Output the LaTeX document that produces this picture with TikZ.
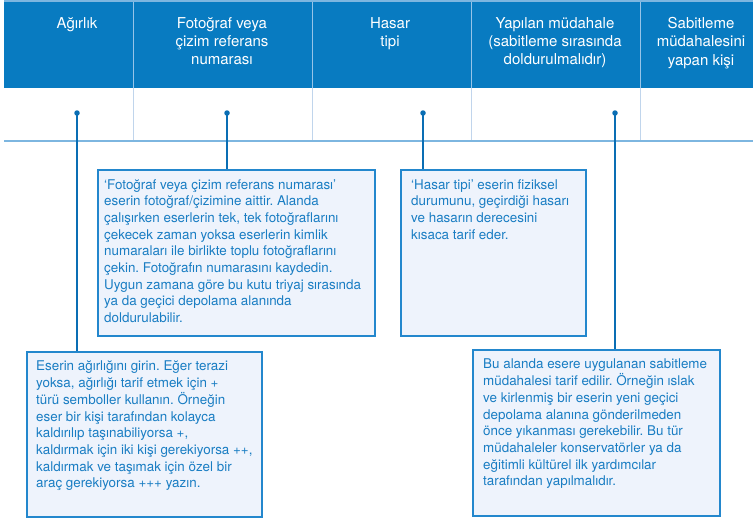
\documentclass[tikz,border=0pt]{standalone}
\usepackage{fontspec}
\setmainfont{TeX Gyre Heros}
\frenchspacing
\definecolor{headblue}{RGB}{8,123,193}
\definecolor{rowline}{RGB}{125,182,224}
\definecolor{headdiv}{RGB}{150,196,232}
\definecolor{celldiv}{RGB}{192,213,236}
\definecolor{leader}{RGB}{10,110,180}
\definecolor{boxedge}{RGB}{35,135,205}
\definecolor{boxfill}{RGB}{238,243,252}
\definecolor{boxink}{RGB}{25,125,195}
\begin{document}
\begin{tikzpicture}[x=1pt,y=-1pt,
  headtext/.style={text=white, align=center, inner sep=0pt, anchor=north,
    font=\fontsize{15}{18.3}\selectfont},
  infobox/.style={draw=boxedge, line width=1.5pt, fill=boxfill, anchor=north west,
    inner sep=0pt},
  boxtext/.style={text=boxink, align=left, inner sep=0pt, anchor=north west,
    font=\fontsize{13.4}{16.7}\selectfont},
  dot/.style={circle, fill=leader, inner sep=0pt, minimum size=5.5pt},
  leaderline/.style={draw=leader, line width=1.3pt}
]
\useasboundingbox (0,0) rectangle (753,520);
\fill[white] (0,0) rectangle (753,520);

% header band and row lines
\fill[headblue] (4,2) rectangle (753,88);
\draw[rowline, line width=1.2pt] (4,1) -- (753,1);
\foreach \x in {133,312,471,640}{
  \draw[headdiv, line width=0.8pt] (\x,2) -- (\x,88);
  \draw[celldiv, line width=0.8pt] (\x,88) -- (\x,140);
}
\draw[rowline, line width=2pt] (4,141) -- (753,141);

% column titles
\node[headtext] (h1) at (77,17) {Ağırlık};
\node[headtext] (h2) at (222,17) {Fotoğraf veya\\çizim referans\\numarası};
\node[headtext] (h3) at (390,17) {Hasar\\tipi};
\node[headtext] (h4) at (555,17) {Yapılan müdahale\\(sabitleme sırasında\\doldurulmalıdır)};
\node[headtext] (h5) at (701,17) {Sabitleme\\müdahalesini\\yapan kişi};

% explanation boxes
\node[infobox, minimum width=277pt, minimum height=166pt] (fotobox) at (97,169) {};
\node[infobox, minimum width=185pt, minimum height=166pt] (hasarbox) at (400,169) {};
\node[infobox, minimum width=235pt, minimum height=165pt] (agbox) at (26,351) {};
\node[infobox, minimum width=247pt, minimum height=166pt] (mudbox) at (472,349) {};

\node[boxtext] (fototext) at ([xshift=7pt,yshift=-10pt]fotobox.north west)
  {‘Fotoğraf veya çizim referans numarası’\\
   eserin fotoğraf/çizimine aittir. Alanda\\
   çalışırken eserlerin tek, tek fotoğraflarını\\
   çekecek zaman yoksa eserlerin kimlik\\
   numaraları ile birlikte toplu fotoğraflarını\\
   çekin. Fotoğrafın numarasını kaydedin.\\
   Uygun zamana göre bu kutu triyaj sırasında\\
   ya da geçici depolama alanında\\
   doldurulabilir.};
\node[boxtext] (hasartext) at ([xshift=11pt,yshift=-10pt]hasarbox.north west)
  {‘Hasar tipi’ eserin fiziksel\\
   durumunu, geçirdiği hasarı\\
   ve hasarın derecesini\\
   kısaca tarif eder.};
\node[boxtext] (agtext) at ([xshift=10pt,yshift=-10pt]agbox.north west)
  {Eserin ağırlığını girin. Eğer terazi\\
   yoksa, ağırlığı tarif etmek için +\\
   türü semboller kullanın. Örneğin\\
   eser bir kişi tarafından kolayca\\
   kaldırılıp taşınabiliyorsa +,\\
   kaldırmak için iki kişi gerekiyorsa ++,\\
   kaldırmak ve taşımak için özel bir\\
   araç gerekiyorsa +++ yazın.};
\node[boxtext] (mudtext) at ([xshift=11pt,yshift=-10pt]mudbox.north west)
  {Bu alanda esere uygulanan sabitleme\\
   müdahalesi tarif edilir. Örneğin ıslak\\
   ve kirlenmiş bir eserin yeni geçici\\
   depolama alanına gönderilmeden\\
   önce yıkanması gerekebilir. Bu tür\\
   müdahaleler konservatörler ya da\\
   eğitimli kültürel ilk yardımcılar\\
   tarafından yapılmalıdır.};

% leader dots and lines
\node[dot] (d1) at (77,113) {};
\node[dot] (d2) at (227,113) {};
\node[dot] (d3) at (423,113) {};
\node[dot] (d4) at (615,113) {};
\draw[leaderline] (d1.center) -- (d1 |- agbox.north);
\draw[leaderline] (d2.center) -- (d2 |- fotobox.north);
\draw[leaderline] (d3.center) -- (d3 |- hasarbox.north);
\draw[leaderline] (d4.center) -- (d4 |- mudbox.north);
\end{tikzpicture}
\end{document}
